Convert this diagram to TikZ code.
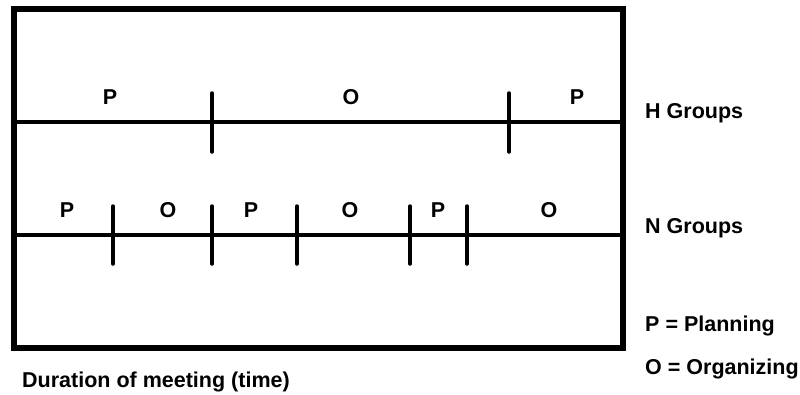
\documentclass[tikz,border=0pt]{standalone}
\usepackage{fontspec}
\setmainfont{Liberation Sans}
\begin{document}
\begin{tikzpicture}[x=1pt,y=-1pt,
  frame/.style={line width=6pt},
  axis/.style={line width=3.5pt},
  tick/.style={line width=3.5pt,line cap=round},
  lbl/.style={anchor=base,inner sep=0pt,font=\fontsize{21.5}{24}\selectfont\bfseries},
  side/.style={anchor=base west,inner sep=0pt,font=\fontsize{21.5}{24}\selectfont\bfseries}]
\useasboundingbox (0,0) rectangle (800,394);
\draw[frame] (14,9) rectangle (623,348);
% H groups
\draw[axis] (14,122) -- (623,122);
\foreach \x in {212,509} \draw[tick] (\x,93) -- (\x,152);
\node[lbl] (hp1) at (110,104) {P};
\node[lbl] (ho1) at (351,104) {O};
\node[lbl] (hp2) at (577,104) {P};
% N groups
\draw[axis] (14,235) -- (623,235);
\foreach \x in {113,212,297,410,467} \draw[tick] (\x,206) -- (\x,264);
\node[lbl] (np1) at (67,217) {P};
\node[lbl] (no1) at (168,217) {O};
\node[lbl] (np2) at (251,217) {P};
\node[lbl] (no2) at (350,217) {O};
\node[lbl] (np3) at (438,217) {P};
\node[lbl] (no3) at (549,217) {O};
% side labels
\node[side] (hg) at (645,118) {H Groups};
\node[side] (ng) at (645,233) {N Groups};
\node[side] (pp) at (645,331) {P = Planning};
\node[side] (oo) at (645,374) {O = Organizing};
\node[side] (dur) at (22,387) {Duration of meeting (time)};
\end{tikzpicture}
\end{document}
